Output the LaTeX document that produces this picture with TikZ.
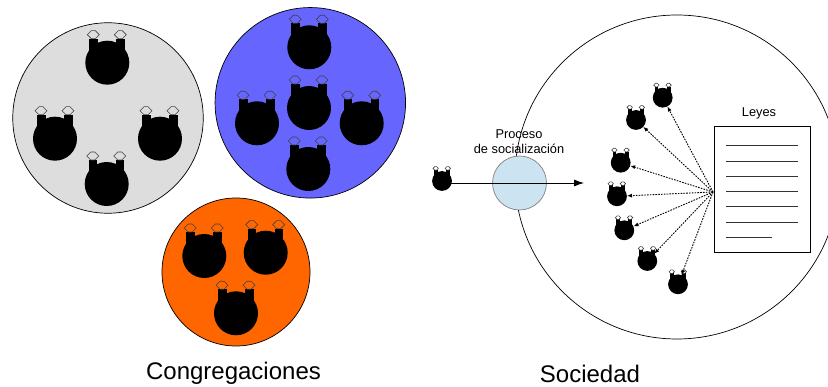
\documentclass[tikz,border=0pt]{standalone}
\usepackage{fontspec}
\setmainfont{Liberation Sans}
\usetikzlibrary{arrows.meta}
\definecolor{groupgrey}{RGB}{221,221,221}
\definecolor{groupblue}{RGB}{102,102,255}
\definecolor{grouporange}{RGB}{255,102,0}
\definecolor{processblue}{RGB}{204,228,242}
\tikzset{
	group/.style = {circle, draw = black, line width = 0.7pt, inner sep = 0pt, minimum size = 190.5pt},
	critter/.pic = {
		\fill[black] (-18,-24) rectangle (-9.5,0);
		\fill[black] (9,-24) rectangle (17.5,0);
		\node (-body) at (0,0) [circle, fill = black, inner sep = 0pt, minimum size = 44pt, transform shape] {};
		\draw[black!75, line width = 0.6pt] (-20,-28) -- (-16,-32) -- (-12,-32) -- (-8,-28) -- (-12,-24) -- (-16,-24) -- cycle;
		\draw[black!75, line width = 0.6pt] (7,-28) -- (11,-32) -- (15,-32) -- (19,-28) -- (15,-24) -- (11,-24) -- cycle;
	},
	ruled/.style = {draw = black!80, line width = 0.6pt},
	small/.style = {font=\fontsize{12.8}{14}\selectfont},
	caption/.style = {font=\fontsize{24}{28}\selectfont, inner sep = 0pt},
	influence/.style = {dash pattern = on 1.6pt off 1.2pt, line width = 0.9pt, -{Latex[length=5pt,width=4pt]}}
}
\begin{document}
\begin{tikzpicture}[x=1pt,y=-1pt]
	\useasboundingbox (0,0) rectangle (828,387);
	\node (Grey) at (108,118)	[group, fill = groupgrey]	{};
	\node (Blue) at (310.3,102.8)	[group, fill = groupblue]	{};
	\node (Orange) at (236,272)	[group, fill = grouporange, minimum size = 148pt]	{};
	\pic (G1) at (107.3,62.7)	[scale=1] {critter};
	\pic (G2) at (55,138.7)	[scale=1] {critter};
	\pic (G3) at (160,138.7)	[scale=1] {critter};
	\pic (G4) at (106.7,184)	[scale=1] {critter};
	\pic (B1) at (309.3,47.3)	[scale=1] {critter};
	\pic (B2) at (309,108)	[scale=1] {critter};
	\pic (B3) at (257,123.3)	[scale=1] {critter};
	\pic (B4) at (361.7,123.3)	[scale=1] {critter};
	\pic (B5) at (308.3,169)	[scale=1] {critter};
	\pic (O1) at (204.3,256)	[scale=1] {critter};
	\pic (O2) at (265.7,252.7)	[scale=1] {critter};
	\pic (O3) at (236,313.3)	[scale=1] {critter};
	\begin{scope}
		\clip (0,0) rectangle (828,387);
		\node (Society) at (677,177)	[circle, draw = black, line width = 0.7pt, inner sep = 0pt, minimum size = 324pt]	{};
	\end{scope}
	\node (Process) at (519.5,183)	[circle, draw = black!50, line width = 0.7pt, fill = processblue, inner sep = 0pt, minimum size = 54pt]	{};
	\pic (Newcomer) at (442,181)	[scale=0.45] {critter};
	\coordinate (Exit) at (584,183);
	\draw[line width = 0.8pt, -{Latex[length=10pt,width=7pt]}] (Newcomer-body.center |- Exit) -- (Exit);
	\node (ProcessA) at (519,134)	[small]	{Proceso};
	\node (ProcessB) at (519,149)	[small]	{de socialización};
	\node (Laws) at (762.2,189.2)	[draw = black, line width = 0.6pt, fill = white, minimum width = 95.7pt, minimum height = 125.7pt, inner sep = 0pt]	{};
	\node (LawsTitle) at (759,113)	[small]	{Leyes};
	\coordinate (L1a) at (726,145);	\coordinate (L1b) at (798,145);
	\coordinate (L2a) at (726,161);	\coordinate (L2b) at (798,161);
	\coordinate (L3a) at (726,176);	\coordinate (L3b) at (798,176);
	\coordinate (L4a) at (726,191);	\coordinate (L4b) at (798,191);
	\coordinate (L5a) at (726,206);	\coordinate (L5b) at (798,206);
	\coordinate (L6a) at (726,222);	\coordinate (L6b) at (798,222);
	\coordinate (L7a) at (726,237);	\coordinate (L7b) at (772,237);
	\draw[ruled] (L1a) -- (L1b);
	\draw[ruled] (L2a) -- (L2b);
	\draw[ruled] (L3a) -- (L3b);
	\draw[ruled] (L4a) -- (L4b);
	\draw[ruled] (L5a) -- (L5b);
	\draw[ruled] (L6a) -- (L6b);
	\draw[ruled] (L7a) -- (L7b);
	\pic (P1) at (662.7,97.7)	[scale=0.45] {critter};
	\pic (P2) at (636,120)	[scale=0.45] {critter};
	\pic (P3) at (620.7,162.7)	[scale=0.45] {critter};
	\pic (P4) at (617,196.3)	[scale=0.45] {critter};
	\pic (P5) at (624.3,230.3)	[scale=0.45] {critter};
	\pic (P6) at (647.3,261)	[scale=0.45] {critter};
	\pic (P7) at (678,284.3)	[scale=0.45] {critter};
	\coordinate (Source) at (713,192);
	\draw[influence] (Source) -- (P1-body);
	\draw[influence] (Source) -- (P2-body);
	\draw[influence] (Source) -- (P3-body);
	\draw[influence] (Source) -- (P4-body);
	\draw[influence] (Source) -- (P5-body);
	\draw[influence] (Source) -- (P6-body);
	\draw[influence] (Source) -- (P7-body);
	\node (Congregations) at (233.5,373)	[caption]	{Congregaciones};
	\node (Societyname) at (590,374)	[caption]	{Sociedad};
\end{tikzpicture}
\end{document}
